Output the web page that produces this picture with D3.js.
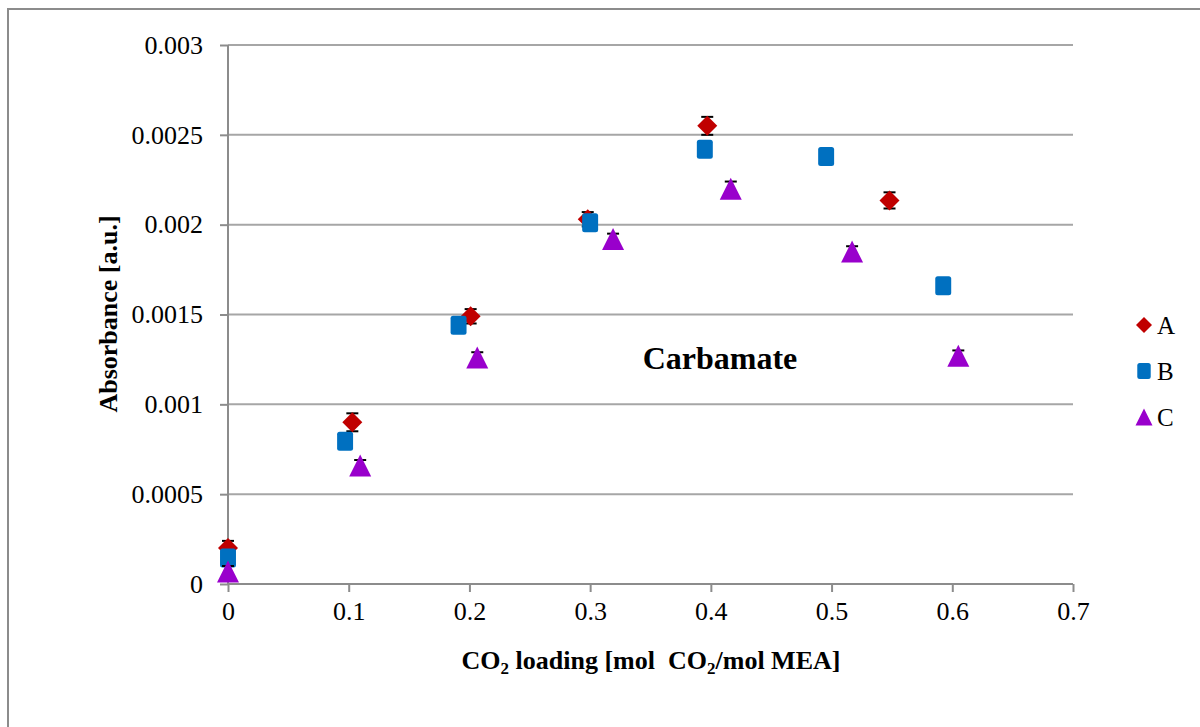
<!DOCTYPE html>
<html>
<head>
<meta charset="utf-8">
<script src="https://cdn.jsdelivr.net/npm/d3@7"></script>
<style>
  html, body { margin: 0; padding: 0; background: #fff; }
  svg text { font-family: "Liberation Serif", "Times New Roman", serif; fill: #000; }
</style>
</head>
<body>
<svg id="chart" width="1200" height="727"></svg>
<script>
// Series: CO2 loading (x) and carbamate absorbance (y) with error magnitudes
const seriesNames = ["A", "B", "C"];

const loadingA = [0, 0.103, 0.201, 0.298, 0.397, 0.548];
const absorbA  = [0.0002, 0.0009, 0.00149, 0.00203, 0.00255, 0.002135];
const errA     = [0.00004, 0.00005, 0.00004, 0.00004, 0.00005, 0.000045];

const loadingB = [0, 0.097, 0.191, 0.300, 0.395, 0.4955, 0.5925];
const absorbB  = [0.000145, 0.000795, 0.00144, 0.00201, 0.00242, 0.00238, 0.00166];
const errB     = [0.00003, 0.00003, 0.00003, 0.00003, 0.00004, 0.00003, 0.00003];

const loadingC = [0, 0.1095, 0.2065, 0.319, 0.4165, 0.517, 0.605];
const absorbC  = [0.00007, 0.00066, 0.00126, 0.00192, 0.0022, 0.00185, 0.00127];
const errC     = [0.00003, 0.00003, 0.00003, 0.00003, 0.00004, 0.00003, 0.00003];

const xTicks = [0, 0.1, 0.2, 0.3, 0.4, 0.5, 0.6, 0.7];
const yTicks = [0, 0.0005, 0.001, 0.0015, 0.002, 0.0025, 0.003];

const svg = d3.select("#chart");

// outer chart frame
svg.append("rect")
  .attr("x", 8).attr("y", 9).attr("width", 1200).attr("height", 730)
  .attr("fill", "#fff").attr("stroke", "#8c8c8c").attr("stroke-width", 2);

const plot = { left: 228, right: 1073, top: 45, bottom: 584 };

const x = d3.scaleLinear().domain([0, 0.7]).range([plot.left, plot.right]);
const y = d3.scaleLinear().domain([0, 0.003]).range([plot.bottom, plot.top]);

// horizontal gridlines
svg.append("g")
  .selectAll("line")
  .data(yTicks.filter(d => d > 0))
  .join("line")
  .attr("x1", plot.left).attr("x2", plot.right)
  .attr("y1", d => y(d)).attr("y2", d => y(d))
  .attr("stroke", "#a6a6a6").attr("stroke-width", 2);

// y axis
const yAxis = svg.append("g")
  .attr("transform", `translate(${plot.left},0)`)
  .call(d3.axisLeft(y).tickValues(yTicks).tickSize(8).tickPadding(17)
    .tickFormat(d => d === 0 ? "0" : String(+d.toPrecision(3))));
yAxis.selectAll("path, line").attr("stroke", "#8c8c8c").attr("stroke-width", 2);
yAxis.select(".domain").attr("d", `M0,${plot.top}V${plot.bottom}`);
yAxis.selectAll("text").attr("font-size", 26).attr("fill", "#000");

// x axis
const xAxis = svg.append("g")
  .attr("transform", `translate(0,${plot.bottom})`)
  .call(d3.axisBottom(x).tickValues(xTicks).tickSize(8).tickPadding(10)
    .tickFormat(d => d === 0 ? "0" : String(+d.toFixed(1))));
xAxis.selectAll("path, line").attr("stroke", "#8c8c8c").attr("stroke-width", 2);
xAxis.select(".domain").attr("d", `M${plot.left},0H${plot.right}`);
xAxis.selectAll("text").attr("font-size", 26).attr("fill", "#000");

// axis titles
const xt = svg.append("text")
  .attr("x", 651).attr("y", 669)
  .attr("text-anchor", "middle")
  .attr("font-size", 26).attr("font-weight", "bold")
  .style("white-space", "pre");
xt.append("tspan").text("CO");
xt.append("tspan").attr("font-size", 17).attr("dy", 5).text("2");
xt.append("tspan").attr("dy", -5).text(" loading [mol  CO");
xt.append("tspan").attr("font-size", 17).attr("dy", 5).text("2");
xt.append("tspan").attr("dy", -5).text("/mol MEA]");

svg.append("text")
  .attr("transform", "translate(117,314) rotate(-90)")
  .attr("text-anchor", "middle")
  .attr("font-size", 26).attr("font-weight", "bold")
  .text("Absorbance [a.u.]");

// annotation
svg.append("text")
  .attr("x", 720).attr("y", 369)
  .attr("text-anchor", "middle")
  .attr("font-size", 32).attr("font-weight", "bold")
  .text("Carbamate");

// marker shapes
const colors = { A: "#c00000", B: "#0070c0", C: "#9900cc" };
function markerPath(name, s) {
  if (name === "A") { // diamond
    const h = s / 2;
    return `M0,${-h}L${h},0L0,${h}L${-h},0Z`;
  }
  if (name === "B") { // rounded square, slightly tall
    const w = s * 0.84 / 2, h = s / 2, r = 2.5;
    return `M${-w + r},${-h}H${w - r}Q${w},${-h} ${w},${-h + r}V${h - r}Q${w},${h} ${w - r},${h}H${-w + r}Q${-w},${h} ${-w},${h - r}V${-h + r}Q${-w},${-h} ${-w + r},${-h}Z`;
  }
  // triangle
  const h = s / 2;
  return `M0,${-h}L${h},${h}L${-h},${h}Z`;
}
const markerSize = { A: 20, B: 19, C: 22 };

const series = [
  { name: "A", xs: loadingA, ys: absorbA, es: errA },
  { name: "B", xs: loadingB, ys: absorbB, es: errB },
  { name: "C", xs: loadingC, ys: absorbC, es: errC }
];

series.forEach(s => {
  const pts = s.xs.map((v, i) => ({ x: v, y: s.ys[i], e: s.es[i] }));
  const g = svg.append("g");
  // error bars behind the markers
  const eb = g.selectAll("g.err").data(pts).join("g").attr("class", "err");
  eb.append("line")
    .attr("x1", d => x(d.x)).attr("x2", d => x(d.x))
    .attr("y1", d => y(d.y + d.e)).attr("y2", d => y(d.y - d.e))
    .attr("stroke", "#000").attr("stroke-width", 1.5);
  [1, -1].forEach(sign => {
    eb.append("line")
      .attr("x1", d => x(d.x) - 6).attr("x2", d => x(d.x) + 6)
      .attr("y1", d => y(d.y + sign * d.e)).attr("y2", d => y(d.y + sign * d.e))
      .attr("stroke", "#000").attr("stroke-width", 2);
  });
  g.selectAll("path.mk").data(pts).join("path").attr("class", "mk")
    .attr("transform", d => `translate(${x(d.x)},${y(d.y)})`)
    .attr("d", markerPath(s.name, markerSize[s.name]))
    .attr("fill", colors[s.name]);
});

// legend
const legend = svg.append("g");
seriesNames.forEach((n, i) => {
  const cy = 325 + i * 46;
  legend.append("path")
    .attr("transform", `translate(1144,${cy})`)
    .attr("d", markerPath(n, n === "C" ? 17 : 16))
    .attr("fill", colors[n]);
  legend.append("text")
    .attr("x", 1157).attr("y", cy + 9)
    .attr("font-size", 25)
    .text(n);
});
</script>
</body>
</html>
